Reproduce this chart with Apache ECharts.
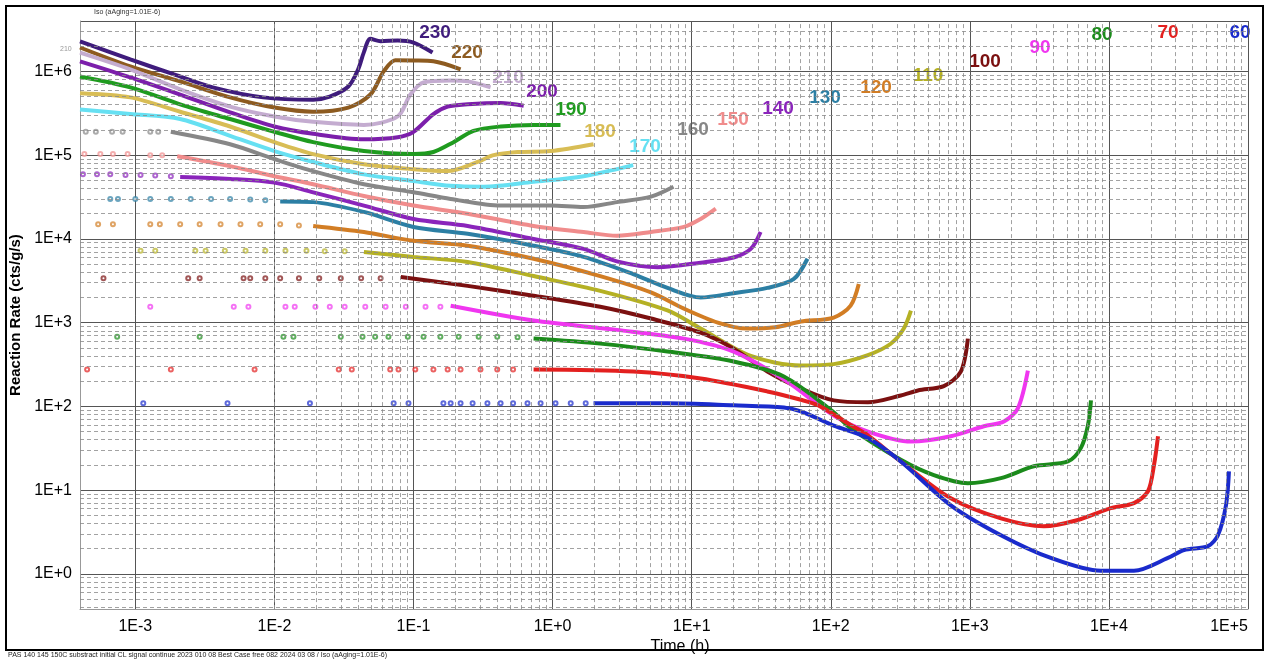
<!DOCTYPE html>
<html>
<head>
<meta charset="utf-8">
<script src="https://cdn.jsdelivr.net/npm/echarts@6/dist/echarts.min.js"></script>
<style>
  html, body { margin: 0; padding: 0; background: #fff; }
  #chart { width: 1270px; height: 660px; }
</style>
</head>
<body>
<div id="chart"></div>
<script>
// Curve names (aging temperature, as printed on the plot)
const temps = ['230', '220', '210', '200', '190', '180', '170', '160', '150',
               '140', '130', '120', '110', '100', '90', '80', '70', '60'];

// Continuous part of each curve: [time (h), reaction rate (cts/g/s)]
const rate230 = [[4.0e-4, 2.28e6], [9.2e-4, 1.39e6], [1.9e-3, 9.2e5], [3.6e-3, 6.45e5], [8.3e-3, 4.9e5],
  [1.9e-2, 4.6e5], [2.5e-2, 5.0e5], [3.4e-2, 6.6e5], [4.0e-2, 1.06e6], [4.4e-2, 1.7e6], [4.9e-2, 2.45e6],
  [5.8e-2, 2.3e6], [7.7e-2, 2.34e6], [0.1, 2.21e6], [0.137, 1.68e6]];
const rate220 = [[4.0e-4, 1.93e6], [9.2e-4, 1.15e6], [2.1e-3, 7.6e5], [4.8e-3, 4.9e5], [1.0e-2, 3.7e5],
  [1.9e-2, 3.3e5], [3.4e-2, 3.7e5], [4.9e-2, 5.3e5], [6.1e-2, 1.0e6], [7.4e-2, 1.36e6], [0.1, 1.35e6],
  [0.139, 1.32e6], [0.218, 1.06e6]];
const rate210 = [[4.0e-4, 1.68e6], [9.2e-4, 1.06e6], [2.1e-3, 6.1e5], [4.8e-3, 3.8e5], [1.0e-2, 2.9e5],
  [1.9e-2, 2.5e5], [4.4e-2, 2.3e5], [7.7e-2, 2.9e5], [9.5e-2, 5.3e5], [0.118, 7.4e5], [0.185, 7.8e5],
  [0.245, 7.6e5], [0.358, 6.45e5]];
const rate200 = [[4.0e-4, 1.32e6], [9.2e-4, 8.5e5], [2.1e-3, 5.3e5], [4.8e-3, 3.25e5], [1.0e-2, 2.2e5],
  [1.9e-2, 1.8e5], [4.4e-2, 1.55e5], [7.7e-2, 1.64e5], [0.1, 1.9e5], [0.139, 3.1e5], [0.176, 3.8e5],
  [0.245, 4.05e5], [0.423, 4.2e5], [0.62, 3.9e5]];
const rate190 = [[4.0e-4, 8.7e5], [9.2e-4, 6.45e5], [2.1e-3, 4.05e5], [4.8e-3, 2.7e5], [1.0e-2, 1.9e5],
  [1.9e-2, 1.43e5], [4.4e-2, 1.12e5], [0.1, 1.03e5], [0.139, 1.09e5], [0.194, 1.43e5], [0.27, 1.95e5],
  [0.423, 2.2e5], [0.73, 2.3e5], [1.14, 2.3e5]];
const rate180 = [[4.0e-4, 5.5e5], [9.2e-4, 4.9e5], [2.1e-3, 3.3e5], [4.8e-3, 2.2e5], [1.0e-2, 1.43e5],
  [1.9e-2, 1.03e5], [4.4e-2, 7.8e4], [0.1, 6.8e4], [0.176, 6.45e4], [0.289, 8.3e4], [0.376, 1.0e5],
  [0.56, 1.09e5], [0.97, 1.12e5], [1.97, 1.35e5]];
const rate170 = [[4.0e-4, 3.5e5], [9.2e-4, 3.1e5], [2.1e-3, 2.7e5], [4.8e-3, 1.7e5], [1.0e-2, 1.12e5],
  [1.9e-2, 8.3e4], [4.4e-2, 5.9e4], [0.1, 4.9e4], [0.185, 4.3e4], [0.319, 4.2e4], [0.73, 4.8e4],
  [1.67, 5.6e4], [3.8, 7.6e4]];
const rate160 = [[1.8e-3, 1.9e5], [4.8e-3, 1.35e5], [1.0e-2, 9.0e4], [1.9e-2, 6.45e4], [4.4e-2, 4.5e4],
  [0.1, 3.6e4], [0.185, 3.0e4], [0.423, 2.5e4], [0.97, 2.5e4], [1.67, 2.4e4], [2.9, 2.75e4], [5.1, 3.2e4],
  [7.4, 4.2e4]];
const rate150 = [[2.0e-3, 9.7e4], [4.8e-3, 7.4e4], [1.0e-2, 5.6e4], [1.9e-2, 4.5e4], [4.4e-2, 3.25e4],
  [0.1, 2.5e4], [0.245, 2.0e4], [0.73, 1.43e4], [1.67, 1.21e4], [2.9, 1.09e4], [5.1, 1.21e4],
  [8.8, 1.39e4], [11.6, 1.73e4], [14.9, 2.3e4]];
const rate140 = [[2.1e-3, 5.5e4], [4.8e-3, 5.2e4], [1.0e-2, 4.7e4], [1.9e-2, 3.6e4], [4.4e-2, 2.5e4],
  [0.1, 1.73e4], [0.245, 1.43e4], [0.73, 1.0e4], [1.67, 7.6e3], [2.9, 5.4e3], [5.7, 4.6e3],
  [11.6, 5.2e3], [20, 6.0e3], [26.6, 7.6e3], [31.3, 1.21e4]];
const rate130 = [[1.1e-2, 2.8e4], [1.9e-2, 2.75e4], [4.4e-2, 2.1e4], [0.1, 1.39e4], [0.245, 1.15e4],
  [0.73, 8.3e3], [1.67, 6.1e3], [3.8, 3.8e3], [6.7, 2.6e3], [11.6, 2.0e3], [20, 2.25e3], [35, 2.6e3],
  [54, 3.3e3], [68, 5.8e3]];
const rate120 = [[1.9e-2, 1.43e4], [4.4e-2, 1.21e4], [0.1, 9.5e3], [0.245, 8.3e3], [0.73, 5.8e3],
  [2.2, 3.6e3], [5.1, 2.3e3], [8.8, 1.47e3], [15.4, 1.0e3], [25, 849], [40, 880], [61, 1.03e3],
  [105, 1.15e3], [139, 1.6e3], [159, 2.9e3]];
const rate110 = [[4.4e-2, 7.0e3], [0.1, 6.1e3], [0.245, 5.3e3], [0.73, 3.6e3], [2.2, 2.4e3],
  [6.7, 1.4e3], [11.6, 850], [26.6, 400], [61, 308], [105, 320], [185, 410], [270, 560], [335, 850],
  [377, 1.39e3]];
const rate100 = [[8.1e-2, 3.5e3], [0.245, 2.75e3], [0.73, 2.1e3], [2.2, 1.55e3], [5.1, 1.12e3],
  [11.6, 760], [20, 490], [35, 261], [61, 164], [105, 118], [185, 112], [319, 135], [423, 155],
  [650, 175], [861, 260], [968, 645]];
const rate90 = [[0.185, 1.59e3], [0.73, 1.06e3], [2.9, 820], [8.8, 645], [20, 452], [46, 210],
  [105, 78], [185, 50], [377, 38], [730, 44], [1262, 58], [1757, 66], [2214, 95], [2614, 268]];
const rate80 = [[0.73, 645], [2.2, 562], [6.7, 452], [20, 344], [46, 228], [105, 85], [139, 55],
  [319, 23], [551, 15.1], [968, 12.1], [1673, 13.9], [2886, 19.3], [5070, 22], [6290, 32], [7060, 59],
  [7430, 118]];
const rate70 = [[0.73, 276], [3.8, 261], [11.6, 215], [35, 151], [61, 120], [81, 103], [139, 60],
  [185, 45], [319, 22], [730, 8.0], [1673, 4.6], [3406, 3.7], [5984, 4.4], [10330, 6.1], [15130, 7.0],
  [19090, 9.7], [21090, 19.9], [22540, 44]];
const rate60 = [[1.97, 109], [6.7, 109], [20, 103], [46, 97], [61, 87], [105, 59], [185, 42], [319, 22],
  [730, 6.6], [1673, 2.9], [3824, 1.55], [8750, 1.09], [15130, 1.09], [26570, 1.55], [34650, 1.93],
  [51560, 2.15], [60810, 2.9], [69470, 6.6], [72980, 16.8]];

// Sparse early readings (drawn as loose circles before the curve becomes continuous)
const sparse160 = [[4.4e-4, 1.9e5], [5.2e-4, 1.9e5], [6.8e-4, 1.9e5], [8.1e-4, 1.9e5], [1.28e-3, 1.9e5], [1.46e-3, 1.9e5]];
const sparse150 = [[4.3e-4, 1.03e5], [5.6e-4, 1.03e5], [6.9e-4, 1.03e5], [8.8e-4, 1.03e5], [1.28e-3, 1.0e5], [1.56e-3, 1.0e5]];
const sparse140 = [[4.2e-4, 5.9e4], [5.3e-4, 5.9e4], [6.6e-4, 5.9e4], [8.5e-4, 5.8e4], [1.09e-3, 5.8e4], [1.39e-3, 5.7e4], [1.8e-3, 5.6e4]];
const sparse130 = [[6.6e-4, 3.0e4], [7.5e-4, 3.0e4], [1.0e-3, 3.0e4], [1.28e-3, 3.0e4], [1.8e-3, 3.0e4],
  [2.5e-3, 3.0e4], [3.5e-3, 3.0e4], [4.8e-3, 3.0e4], [6.7e-3, 2.95e4], [8.6e-3, 2.9e4]];
const sparse120 = [[5.4e-4, 1.5e4], [6.9e-4, 1.5e4], [1.28e-3, 1.5e4], [1.5e-3, 1.5e4], [2.1e-3, 1.5e4],
  [2.9e-3, 1.5e4], [4.1e-3, 1.5e4], [5.7e-3, 1.5e4], [7.9e-3, 1.5e4], [1.1e-2, 1.5e4], [1.5e-2, 1.45e4]];
const sparse110 = [[1.09e-3, 7200], [1.39e-3, 7200], [2.7e-3, 7200], [3.2e-3, 7200], [4.4e-3, 7200],
  [6.2e-3, 7200], [8.6e-3, 7200], [1.2e-2, 7200], [1.7e-2, 7200], [2.3e-2, 7100], [3.2e-2, 7100]];
const sparse100 = [[5.9e-4, 3400], [2.4e-3, 3400], [2.9e-3, 3400], [6.0e-3, 3400], [6.7e-3, 3400],
  [8.6e-3, 3400], [1.1e-2, 3400], [1.5e-2, 3400], [2.1e-2, 3400], [3.0e-2, 3400], [4.2e-2, 3400], [5.8e-2, 3400]];
const sparse90 = [[1.28e-3, 1550], [5.1e-3, 1550], [6.5e-3, 1550], [1.2e-2, 1550], [1.4e-2, 1550],
  [1.97e-2, 1550], [2.5e-2, 1550], [3.2e-2, 1550], [4.5e-2, 1550], [6.3e-2, 1550], [8.8e-2, 1550],
  [0.122, 1550], [0.156, 1550]];
const sparse80 = [[7.4e-4, 681], [2.9e-3, 681], [1.16e-2, 681], [1.37e-2, 681], [3.0e-2, 681], [4.3e-2, 681],
  [5.3e-2, 681], [6.6e-2, 681], [9.1e-2, 681], [0.118, 681], [0.156, 681], [0.211, 681], [0.294, 681],
  [0.40, 681], [0.56, 670]];
const sparse70 = [[4.5e-4, 276], [1.8e-3, 276], [7.2e-3, 276], [2.9e-2, 276], [3.6e-2, 276], [6.8e-2, 276],
  [7.8e-2, 276], [0.103, 276], [0.139, 276], [0.176, 276], [0.218, 276], [0.303, 276], [0.40, 276], [0.52, 276]];
const sparse60 = [[1.14e-3, 109], [4.6e-3, 109], [1.8e-2, 109], [7.2e-2, 109], [9.2e-2, 109], [0.164, 109],
  [0.185, 109], [0.218, 109], [0.266, 109], [0.34, 109], [0.423, 109], [0.52, 109], [0.66, 109],
  [0.82, 109], [1.05, 109], [1.35, 109], [1.73, 109]];

const curves = {
  230: rate230, 220: rate220, 210: rate210, 200: rate200, 190: rate190, 180: rate180,
  170: rate170, 160: rate160, 150: rate150, 140: rate140, 130: rate130, 120: rate120,
  110: rate110, 100: rate100, 90: rate90, 80: rate80, 70: rate70, 60: rate60
};
const sparse = {
  160: sparse160, 150: sparse150, 140: sparse140, 130: sparse130, 120: sparse120, 110: sparse110,
  100: sparse100, 90: sparse90, 80: sparse80, 70: sparse70, 60: sparse60
};

// styling
const colors = {
  230: '#3f1c7c', 220: '#8d5b20', 210: '#c4acd0', 200: '#7c1fab', 190: '#1f9b1f', 180: '#d8bd55',
  170: '#66e0f2', 160: '#878787', 150: '#f08c8c', 140: '#8a24bb', 130: '#2c7fa4', 120: '#d27d24',
  110: '#b5b124', 100: '#7b1010', 90: '#f036f0', 80: '#1b8b1b', 70: '#e3201f', 60: '#1a2bcc'
};
// where the curve names sit in the picture (px)
const labelPos = {
  230: [435, 33], 220: [467, 53], 210: [508, 78], 200: [542, 92], 190: [571, 110], 180: [600, 132],
  170: [645, 147], 160: [693, 130], 150: [733, 120], 140: [778, 109], 130: [825, 98], 120: [876, 88],
  110: [928, 76], 100: [985, 62], 90: [1040, 48], 80: [1102, 35], 70: [1168, 33], 60: [1240, 33]
};

const xMin = 4e-4, xMax = 1e5, yMin = 0.38, yMax = 4e6;
const FONT = '"Liberation Sans", Arial, sans-serif';

function expLabel(v) {
  const e = Math.round(Math.log10(v));
  return '1E' + (e >= 0 ? '+' : '-') + Math.abs(e);
}

// log minor grid (2..9 in every decade)
function minorLines(lo, hi, key) {
  const out = [];
  for (let e = Math.floor(Math.log10(lo)); e <= Math.ceil(Math.log10(hi)); e++) {
    for (let m = 2; m < 10; m++) {
      const v = m * Math.pow(10, e);
      if (v > lo && v < hi) out.push({ [key]: v });
    }
  }
  return out;
}

const series = [];
series.push({
  type: 'line', data: [], silent: true, z: 1,
  markLine: {
    silent: true, symbol: 'none', animation: false,
    label: { show: false },
    lineStyle: { color: '#8a8a8a', type: [4, 3], width: 0.8 },
    data: minorLines(xMin, xMax, 'xAxis').concat(minorLines(yMin, yMax, 'yAxis'))
  }
});

temps.forEach(t => {
  if (sparse[t]) {
    series.push({
      name: t + ' early', type: 'scatter', data: sparse[t], z: 3,
      symbol: 'emptyCircle', symbolSize: 4,
      itemStyle: { color: colors[t], opacity: 0.7, borderWidth: 1 }
    });
  }
  series.push({
    name: t, type: 'line', data: curves[t], z: 4,
    smooth: 0.3, showSymbol: false,
    lineStyle: { color: colors[t], width: 4 },
    itemStyle: { color: colors[t] }
  });
});

const graphic = [
  { type: 'rect', shape: { x: 6, y: 6, width: 1257, height: 644 }, style: { fill: 'none', stroke: '#000', lineWidth: 2 }, silent: true },
  { type: 'text', x: 94, y: 9, style: { text: 'Iso (aAging=1.01E-6)', font: '7px ' + FONT, fill: '#333' } },
  { type: 'text', x: 60, y: 46, style: { text: '210', font: '7px ' + FONT, fill: '#999' } },
  { type: 'text', x: 8, y: 652, style: { text: 'PAS 140 145 150C substract initial CL signal continue 2023 010 08 Best Case free 082 2024 03 08 / Iso (aAging=1.01E-6)', font: '7px ' + FONT, fill: '#222' } }
];
temps.forEach(t => {
  graphic.push({
    type: 'text', x: labelPos[t][0], y: labelPos[t][1],
    style: { text: t, font: 'bold 19px ' + FONT, fill: colors[t], align: 'center', verticalAlign: 'middle' }
  });
});

const chart = echarts.init(document.getElementById('chart'));
chart.setOption({
  animation: false,
  backgroundColor: '#fff',
  grid: { left: 80, right: 22, top: 21, bottom: 48 },
  xAxis: {
    type: 'log', min: xMin, max: xMax,
    name: 'Time (h)', nameLocation: 'middle', nameGap: 22,
    nameTextStyle: { fontFamily: FONT, fontSize: 16, color: '#000', padding: [0, 0, 0, 32] },
    axisLine: { lineStyle: { color: '#999' } },
    axisTick: { show: false },
    axisLabel: { formatter: expLabel, fontFamily: FONT, fontSize: 16, color: '#000', margin: 9,
      showMinLabel: false, alignMaxLabel: 'right' },
    splitLine: { show: true, lineStyle: { color: '#555', width: 1 } }
  },
  yAxis: {
    type: 'log', min: yMin, max: yMax,
    name: 'Reaction Rate (cts/g/s)', nameLocation: 'middle', nameGap: 52,
    nameTextStyle: { fontFamily: FONT, fontSize: 15, fontWeight: 'bold', color: '#000' },
    axisLine: { show: true, lineStyle: { color: '#999' } },
    axisTick: { show: false },
    axisLabel: { formatter: expLabel, fontFamily: FONT, fontSize: 16, color: '#000', margin: 8,
      showMinLabel: false, showMaxLabel: false },
    splitLine: { show: true, lineStyle: { color: '#555', width: 1 } }
  },
  series: series,
  graphic: graphic
});
</script>
</body>
</html>
